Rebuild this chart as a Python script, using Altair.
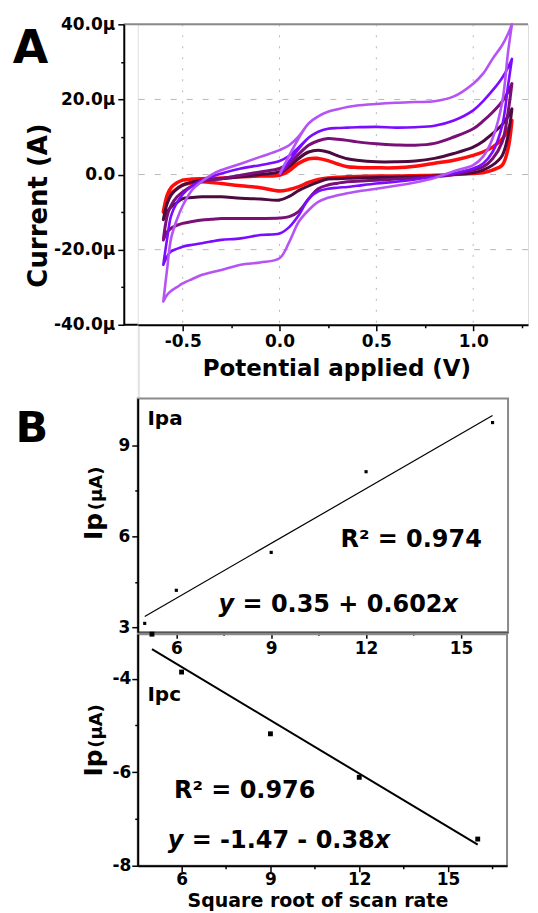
import altair as alt
import pandas as pd

FONT = "DejaVu Sans"

# ---------------- Panel A: cyclic voltammograms ----------------
E_GRID = [-0.6, -0.58, -0.56, -0.53, -0.5, -0.45, -0.4, -0.35, -0.3, -0.2, -0.1,
          0.0, 0.05, 0.1, 0.15, 0.2, 0.25, 0.3, 0.35, 0.4, 0.5, 0.6, 0.7, 0.8,
          0.9, 1.0, 1.05, 1.1, 1.15, 1.18, 1.2]

# anodic (forward) branch currents, uA, at E_GRID
R_FWD = [-10, -5.5, -3.5, -2.2, -1.5, -1.2, -1.1, -1.0, -0.9, -0.6, -0.4, -0.2, 1.0, 3.0, 4.2,
         4.3, 3.7, 2.8, 2.1, 1.9, 1.8, 1.8, 2.2, 3.0, 3.8, 5.1, 6.0, 7.3, 9.5, 12, 14.4]
M_FWD = [-12, -7.7, -5.5, -3.8, -2.8, -2.0, -1.5, -1.3, -1.1, -0.6, 0.0, 0.7, 2.2, 4.4, 6.0,
         6.5, 6.0, 5.0, 4.2, 3.8, 3.4, 3.4, 3.6, 4.3, 5.6, 7.3, 8.8, 10.9, 13.3, 15.5, 17.5]
P_FWD = [-17.4, -11, -8.2, -6, -4.6, -3, -1.9, -1.4, -1.1, -0.2, 0.7, 1.6, 3.0, 5.5, 7.8,
         9.0, 9.6, 9.4, 9.1, 8.7, 8.2, 7.9, 7.8, 8.3, 10.0, 12.2, 14.2, 16.6, 19.5, 22, 24.2]
V_FWD = [-24, -17, -11, -7.5, -5.3, -3, -1.5, -0.5, 0.3, 1.6, 2.5, 3.6, 5, 7.3, 9.8,
         11.4, 12.2, 12.4, 12.5, 12.6, 12.7, 12.5, 12.6, 13.0, 14.4, 17.1, 19.5, 22.4, 25.8, 28.5, 30.8]
LV_FWD = [-33.8, -25, -17, -12, -8.3, -4, -1.8, 0, 1.2, 2.9, 4.7, 6.5, 7.8, 10.2, 13.6,
          15.5, 16.7, 17.4, 18.0, 18.4, 18.8, 19.1, 19.3, 19.5, 20.8, 24.2, 26.8, 30.8, 34.5, 37.5, 40]

# cathodic (reverse) branch currents, uA, at E_GRID
R_REV = [-10, -6.5, -5.0, -3.8, -2.8, -2.2, -1.9, -2.1, -2.4, -3.0, -3.5, -4.4, -4.0, -3.2, -2.1,
         -1.3, -0.9, -0.7, -0.6, -0.5, -0.4, -0.4, -0.3, -0.2, 0.0, 0.3, 0.5, 1.2, 2.5, 6.9, 14.4]
M_REV = [-12, -10, -8.6, -7.5, -6.4, -6.1, -5.9, -5.9, -5.9, -6.3, -6.5, -6.8, -5.8, -4.2, -3.0,
         -2.0, -1.2, -1.1, -1.0, -0.9, -0.8, -0.7, -0.6, -0.4, 0.0, 0.5, 1.2, 2.5, 5.1, 10.4, 17.5]
P_REV = [-17.4, -15.3, -14.3, -13.5, -13.0, -12.5, -12.1, -11.9, -11.7, -11.7, -11.7, -11.6, -11.2, -9.8, -6.5,
         -3.8, -2.8, -2.3, -1.9, -1.8, -1.5, -1.2, -0.9, -0.6, 0.0, 1.2, 2.0, 4.2, 8.7, 16.6, 24.2]
V_REV = [-24, -21.8, -20.5, -19.8, -19.2, -18.7, -18.3, -17.8, -17.4, -17.0, -16.1, -15.7, -14.0, -10.8, -6.5,
         -4.5, -3.8, -3.5, -3.3, -3.0, -2.4, -1.9, -1.3, -0.6, 0.3, 1.6, 2.9, 6.0, 13.1, 23.7, 30.8]
LV_REV = [-33.8, -32, -31, -30, -29, -27.8, -26.7, -26, -25.4, -24, -23.4, -22.3, -18, -12.5, -9.5,
          -7.3, -6.2, -5.5, -5.0, -4.5, -3.8, -3.0, -2.1, -0.9, 0.9, 2.5, 4.7, 9.6, 19.3, 32.6, 40]

START_E = 0.0      # scans start at 0 V
START_I = 0.0
JOIN_E = 0.15      # first sweep joins the loop here

CURVES = ["c1", "c2", "c3", "c4", "c5"]
FWD = [R_FWD, M_FWD, P_FWD, V_FWD, LV_FWD]
REV = [R_REV, M_REV, P_REV, V_REV, LV_REV]
COLORS = ["#ff0d0d", "#4b0b3f", "#7a0f78", "#7c0cff", "#b653f5"]
WIDTHS = [3.5, 3, 3, 2.6, 2.6]

GRID_E = [-0.5, 0.0, 0.5, 1.0]
GRID_I = [-20, 0, 20]

# ---------------- Panel B: peak current vs sqrt(scan rate) ----------------
SQRT_RATE = [5, 6, 9, 12, 16]
IPA = [3.13, 4.22, 5.47, 8.13, 9.75]
IPC = [-3.05, -3.86, -5.18, -6.11, -7.43]
FIT_X = [5, 16]
FIT_IPA = [3.36, 9.98]
FIT_IPC = [-3.37, -7.55]

# ---------------- build table ----------------
rows = []
for name, f, r in zip(CURVES, FWD, REV):
    k = 0
    rows.append({"curve": name, "E": START_E, "I": START_I, "k": k}); k += 1
    for e, i in zip(E_GRID, f):
        if e >= JOIN_E:
            rows.append({"curve": name, "E": e, "I": i, "k": k}); k += 1
    for e, i in zip(E_GRID[::-1], r[::-1]):
        rows.append({"curve": name, "E": e, "I": i, "k": k}); k += 1
    for e, i in zip(E_GRID, f):
        rows.append({"curve": name, "E": e, "I": i, "k": k}); k += 1
cv = pd.DataFrame(rows)

AXBASE = dict(domainColor="black", domainWidth=2, tickColor="black", tickWidth=1.5,
              labelFont=FONT, labelFontWeight="bold", labelFontSize=17, labelColor="black",
              titleFont=FONT, titleFontWeight="bold", titleColor="black",
              grid=False, labelFlush=False, labelOverlap=False, zindex=1)


def tsize(test, major, minor):
    return {"condition": {"test": test, "value": major}, "value": minor}


# ---- panel A ----
A_W, A_H = 391, 301
A_XDOM = [-0.732, 1.283]
A_XFULL = -0.805     # where the drawn frame of panel A starts on the left
xA_test = "abs(datum.value*2 - round(datum.value*2)) < 0.001"
X_A = alt.X("E:Q", scale=alt.Scale(domain=A_XDOM, nice=False, zero=False),
            axis=alt.Axis(values=[-0.75, -0.5, -0.25, 0, 0.25, 0.5, 0.75, 1.0, 1.25],
                          tickSize=tsize(xA_test, 6, 3), labelPadding=3,
                          labelExpr="(" + xA_test + ") ? ((datum.value < -0.001 ? '-' : '') + format(abs(datum.value), '.1f')) : ''",
                          title="Potential applied (V)", titleFontSize=23, titlePadding=8, titleX=199, **AXBASE))
yA_test = "datum.value % 20 === 0"
Y_A = alt.Y("I:Q", scale=alt.Scale(domain=[-40, 40], nice=False),
            axis=alt.Axis(values=[-40, -30, -20, -10, 0, 10, 20, 30, 40], offset=14,
                          tickSize=tsize(yA_test, 6, 3), labelPadding=3,
                          labelExpr="(" + yA_test + ") ? (datum.value === 0 ? '0.0' : ((datum.value < 0 ? '-' : '') + format(abs(datum.value), '.1f') + 'μ')) : ''",
                          title="Current (A)", titleFontSize=26, titlePadding=2, titleY=181, **AXBASE))

frameA = pd.DataFrame({"E": [A_XFULL, A_XFULL], "E2": [A_XDOM[0], A_XDOM[1]], "I": [-40, 40],
                       "c": ["black", "#8a8a8a"]})

layersA = [
    alt.Chart(pd.DataFrame({"E": GRID_E})).mark_rule(color="#b8b8b8", strokeWidth=1, strokeDash=[2, 9]).encode(x=X_A),
    alt.Chart(pd.DataFrame({"I": GRID_I})).mark_rule(color="#b8b8b8", strokeWidth=1, strokeDash=[6, 10]).encode(y=Y_A),
    alt.Chart(frameA).mark_rule(strokeWidth=2).encode(
        x=X_A, x2="E2:Q", y=Y_A, color=alt.Color("c:N", scale=None)),
]
for name, col, w in zip(CURVES, COLORS, WIDTHS):
    layersA.append(
        alt.Chart(cv).transform_filter(alt.datum.curve == name)
        .mark_line(color=col, strokeWidth=w, strokeJoin="round", interpolate="catmull-rom")
        .encode(x=X_A, y=Y_A, order="k:Q")
    )
layersA.append(
    alt.Chart(pd.DataFrame({"E": [-1.286], "I": [29.82], "t": ["A"]}))
    .mark_text(font=FONT, fontWeight="bold", fontSize=46, align="center", baseline="alphabetic", color="black")
    .encode(x=X_A, y=Y_A, text="t:N")
)
chartA = alt.layer(*layersA).properties(width=A_W, height=A_H)

# ---- panel B top (Ipa) ----
BT_W, BT_H = 371, 234
X_BT = alt.X("s:Q", scale=alt.Scale(domain=[4.78, 16.49], nice=False, zero=False),
             axis=alt.Axis(values=[6, 7.5, 9, 10.5, 12, 13.5, 15], tickSize=tsize("datum.value % 3 === 0", 6, 3),
                           labelPadding=2, labelExpr="datum.value % 3 === 0 ? format(datum.value, 'd') : ''",
                           title=None, **{**AXBASE, "domainColor": "#555555"}))
Y_BT = alt.Y("v:Q", scale=alt.Scale(domain=[2.84, 10.54], nice=False, zero=False),
             axis=alt.Axis(values=[3, 4.5, 6, 7.5, 9], tickSize=tsize("datum.value % 3 === 0", 6, 3),
                           labelPadding=2, labelExpr="datum.value % 3 === 0 ? format(datum.value, 'd') : ''",
                           title=None, **AXBASE))


def txt(df, size, x, y, align="left", baseline="alphabetic", angle=0, style="normal"):
    return (alt.Chart(df).mark_text(font=FONT, fontWeight="bold", fontSize=size, align=align,
                                     baseline=baseline, angle=angle, fontStyle=style, color="black")
            .encode(x=x, y=y, text="t:N"))


bt = [
    alt.Chart(pd.DataFrame({"s": FIT_X, "v": FIT_IPA})).mark_line(color="black", strokeWidth=1.2).encode(x=X_BT, y=Y_BT),
    alt.Chart(pd.DataFrame({"s": SQRT_RATE, "v": IPA})).mark_square(color="black", size=10, opacity=1).encode(x=X_BT, y=Y_BT),
    txt(pd.DataFrame({"s": [5.086], "v": [9.686], "t": ["Ipa"]}), 20, X_BT, Y_BT),
    txt(pd.DataFrame({"s": [11.19], "v": [5.66], "t": ["R² = 0.974"]}), 24, X_BT, Y_BT),
    txt(pd.DataFrame({"s": [7.337], "v": [3.52], "t": ["y"]}), 24, X_BT, Y_BT, style="italic"),
    txt(pd.DataFrame({"s": [8.094], "v": [3.52], "t": ["= 0.35 + 0.602"]}), 24, X_BT, Y_BT),
    txt(pd.DataFrame({"s": [14.42], "v": [3.52], "t": ["x"]}), 24, X_BT, Y_BT, style="italic"),
    txt(pd.DataFrame({"s": [3.644], "v": [6.328], "t": ["Ip"]}), 25, X_BT, Y_BT, align="center", angle=270),
    txt(pd.DataFrame({"s": [3.644], "v": [7.58], "t": ["(μA)"]}), 18, X_BT, Y_BT, align="center", angle=270),
    txt(pd.DataFrame({"s": [1.428], "v": [9.115], "t": ["B"]}), 43, X_BT, Y_BT, align="center"),
]
chartBT = alt.layer(*bt).properties(width=BT_W, height=BT_H,
                                    view=alt.ViewBackground(stroke="#8a8a8a", strokeWidth=2))

# ---- panel B bottom (Ipc) ----
BB_W, BB_H = 370, 232
X_BB = alt.X("s:Q", scale=alt.Scale(domain=[4.52, 16.99], nice=False, zero=False),
             axis=alt.Axis(values=[6, 7.5, 9, 10.5, 12, 13.5, 15, 16.5], tickSize=tsize("datum.value % 3 === 0", 6, 3),
                           labelPadding=0, labelExpr="datum.value % 3 === 0 ? format(datum.value, 'd') : ''",
                           title="Square root of scan rate", titleFontSize=19, titlePadding=4, titleX=180,
                           **AXBASE))
Y_BB = alt.Y("v:Q", scale=alt.Scale(domain=[-8, -3.05], nice=False, zero=False),
             axis=alt.Axis(values=[-8, -7, -6, -5, -4], tickSize=tsize("datum.value % 2 === 0", 6, 3),
                           labelPadding=1,
                           labelExpr="datum.value % 2 === 0 ? ((datum.value < 0 ? '-' : '') + format(abs(datum.value), 'd')) : ''",
                           title=None, **AXBASE))
bb = [
    alt.Chart(pd.DataFrame({"s": FIT_X, "v": FIT_IPC})).mark_line(color="black", strokeWidth=2).encode(x=X_BB, y=Y_BB),
    alt.Chart(pd.DataFrame({"s": SQRT_RATE, "v": IPC})).mark_square(color="black", size=24, opacity=1).encode(x=X_BB, y=Y_BB),
    txt(pd.DataFrame({"s": [4.847], "v": [-4.486], "t": ["Ipc"]}), 20, X_BB, Y_BB),
    txt(pd.DataFrame({"s": [5.744], "v": [-6.549], "t": ["R² = 0.976"]}), 24, X_BB, Y_BB),
    txt(pd.DataFrame({"s": [5.531], "v": [-7.616], "t": ["y"]}), 24, X_BB, Y_BB, style="italic"),
    txt(pd.DataFrame({"s": [6.34], "v": [-7.616], "t": ["= -1.47 - 0.38"]}), 24, X_BB, Y_BB),
    txt(pd.DataFrame({"s": [12.525], "v": [-7.616], "t": ["x"]}), 24, X_BB, Y_BB, style="italic"),
    txt(pd.DataFrame({"s": [3.307], "v": [-5.802], "t": ["Ip"]}), 25, X_BB, Y_BB, align="center", angle=270),
    txt(pd.DataFrame({"s": [3.307], "v": [-5.013], "t": ["(μA)"]}), 18, X_BB, Y_BB, align="center", angle=270),
]
chartBB = alt.layer(*bb).properties(width=BB_W, height=BB_H,
                                    view=alt.ViewBackground(stroke="#8a8a8a", strokeWidth=2))


def spacer(w, h):
    return (alt.Chart(pd.DataFrame({"z": [0]})).mark_point(opacity=0, size=1)
            .encode(x=alt.value(0), y=alt.value(0)).properties(width=w, height=h))


chart = alt.vconcat(
    chartA, spacer(1, 70), chartBT, chartBB,
    spacing=2,
    bounds="flush",
).properties(
    padding={"left": 4, "top": 5.5, "right": 0, "bottom": 0}
).configure_view(stroke=None).configure(background="white")

chart.save("out.html", embed_options={"renderer": "svg", "actions": False})
